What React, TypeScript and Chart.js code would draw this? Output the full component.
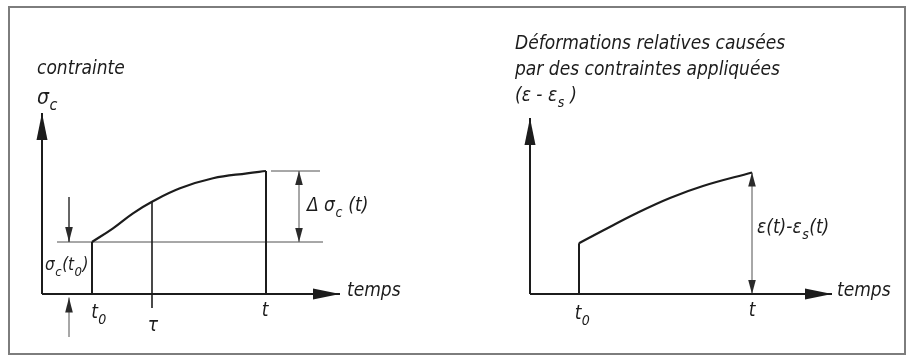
import React, { useEffect, useRef } from 'react';
import { Chart, registerables } from 'chart.js';
Chart.register(...registerables);

// ---------- Left panel: contrainte σc(t) ----------
const stressTime = [1.0, 1.42, 1.82, 2.2, 2.76, 3.42, 4.1, 4.48];
const stressValue = [5.2, 6.57, 8.07, 9.23, 10.57, 11.57, 12.07, 12.3];
const stressMarkLabels = ['t_0', 'τ', 't'];
const stressMarkTime = [1.0, 2.2, 4.48];
const stressAxisEnd = [5.96, 18.1]; // [time axis end, stress axis end]
const stressInitial = 5.2; // σc(t0)
const stressFinal = 12.3; // σc(t)

// ---------- Right panel: déformations (ε - εs) ----------
const strainTime = [0.98, 1.46, 2.14, 2.8, 3.46, 4.44];
const strainValue = [5.07, 6.35, 8.1, 9.6, 10.8, 12.15];
const strainMarkLabels = ['t_0', 't'];
const strainMarkTime = [0.98, 4.44];
const strainAxisEnd = [6.04, 17.6];

// ---------- styles ----------
const INK = '#1c1c1c';
const THIN = '#505050';
const HEAD = '#2a2a2a';
const FONT_FAMILY = '"DejaVu Sans Condensed", "DejaVu Sans", sans-serif';
const MAIN_SIZE = 19;
const SUB_RATIO = 0.76;

type Heads = { start?: boolean; end?: boolean; len: number; half: number };

function seg(
  xAxisID: string,
  yAxisID: string,
  x1: number,
  y1: number,
  x2: number,
  y2: number,
  width: number,
  color: string,
  heads?: Heads
) {
  return {
    data: [
      { x: x1, y: y1 },
      { x: x2, y: y2 },
    ],
    xAxisID,
    yAxisID,
    showLine: true,
    borderColor: color,
    backgroundColor: color,
    borderWidth: width,
    pointRadius: 0,
    fill: false,
    tension: 0,
    heads,
  };
}

function curve(xAxisID: string, yAxisID: string, xs: number[], ys: number[]) {
  return {
    data: xs.map((x, i) => ({ x, y: ys[i] })),
    xAxisID,
    yAxisID,
    showLine: true,
    borderColor: INK,
    borderWidth: 2.2,
    pointRadius: 0,
    fill: false,
    tension: 0.4,
    cubicInterpolationMode: 'default',
  };
}

const AXIS_HEAD: Heads = { end: true, len: 27, half: 5.5 };
const DIM_BOTH: Heads = { start: true, end: true, len: 14, half: 3.8 };
const DIM_END: Heads = { end: true, len: 15, half: 3.8 };

const tauBottom = -1.4;
const leftArrowX = 0.54;

const datasets: any[] = [
  // left panel
  curve('x', 'y', stressTime, stressValue),
  seg('x', 'y', 0, 0, 0, stressAxisEnd[1], 2, INK, AXIS_HEAD),
  seg('x', 'y', 0, 0, stressAxisEnd[0], 0, 2, INK, AXIS_HEAD),
  seg('x', 'y', stressMarkTime[0], 0, stressMarkTime[0], stressInitial, 2, INK),
  seg('x', 'y', stressMarkTime[1], tauBottom, stressMarkTime[1], stressValue[3], 1.6, INK),
  seg('x', 'y', stressMarkTime[2], 0, stressMarkTime[2], stressFinal, 2, INK),
  seg('x', 'y', 0.3, stressInitial, 5.62, stressInitial, 1, THIN),
  seg('x', 'y', 4.58, stressFinal, 5.56, stressFinal, 1, THIN),
  seg('x', 'y', 5.14, stressInitial, 5.14, stressFinal, 1, THIN, DIM_BOTH),
  seg('x', 'y', leftArrowX, 9.7, leftArrowX, stressInitial, 1, THIN, DIM_END),
  seg('x', 'y', leftArrowX, -4.3, leftArrowX, -0.35, 1, THIN, DIM_END),
  // right panel
  curve('x2', 'y2', strainTime, strainValue),
  seg('x2', 'y2', 0, 0, 0, strainAxisEnd[1], 2, INK, AXIS_HEAD),
  seg('x2', 'y2', 0, 0, strainAxisEnd[0], 0, 2, INK, AXIS_HEAD),
  seg('x2', 'y2', strainMarkTime[0], 0, strainMarkTime[0], strainValue[0], 2, INK),
  seg('x2', 'y2', strainMarkTime[1], 0, strainMarkTime[1], strainValue[strainValue.length - 1], 1, THIN, DIM_BOTH),
];

type Label = { text: string; x: number; y: number; xs: string; ys: string; align?: 'left' | 'center'; size?: number };

const labels: Label[] = [
  { text: 'contrainte', x: -0.1, y: 22.6, xs: 'x', ys: 'y' },
  { text: 'σ_c', x: -0.1, y: 19.7, xs: 'x', ys: 'y', size: 21 },
  { text: 'σ_c(t_0)', x: 0.06, y: 2.9, xs: 'x', ys: 'y', size: 17 },
  { text: 'Δ σ_c (t)', x: 5.3, y: 8.9, xs: 'x', ys: 'y' },
  { text: stressMarkLabels[0], x: stressMarkTime[0] + 0.14, y: -1.8, xs: 'x', ys: 'y', align: 'center' },
  { text: stressMarkLabels[1], x: stressMarkTime[1] + 0.02, y: -3.1, xs: 'x', ys: 'y', align: 'center' },
  { text: stressMarkLabels[2], x: stressMarkTime[2] - 0.02, y: -1.6, xs: 'x', ys: 'y', align: 'center' },
  { text: 'temps', x: 6.1, y: 0.4, xs: 'x', ys: 'y' },
  { text: 'Déformations relatives causées', x: -0.3, y: 25.1, xs: 'x2', ys: 'y2' },
  { text: 'par des contraintes appliquées', x: -0.3, y: 22.5, xs: 'x2', ys: 'y2' },
  { text: '(ε - ε_s )', x: -0.3, y: 19.9, xs: 'x2', ys: 'y2' },
  { text: 'ε(t)-ε_s(t)', x: 4.54, y: 6.7, xs: 'x2', ys: 'y2' },
  { text: strainMarkLabels[0], x: strainMarkTime[0] + 0.07, y: -1.9, xs: 'x2', ys: 'y2', align: 'center' },
  { text: strainMarkLabels[1], x: strainMarkTime[1], y: -1.6, xs: 'x2', ys: 'y2', align: 'center' },
  { text: 'temps', x: 6.14, y: 0.4, xs: 'x2', ys: 'y2' },
];

function runs(text: string) {
  const out: { t: string; sub: boolean }[] = [];
  for (let i = 0; i < text.length; i++) {
    if (text[i] === '_' && i + 1 < text.length) {
      out.push({ t: text[i + 1], sub: true });
      i++;
    } else {
      const last = out[out.length - 1];
      if (last && !last.sub) last.t += text[i];
      else out.push({ t: text[i], sub: false });
    }
  }
  return out;
}

function drawHead(ctx: CanvasRenderingContext2D, from: any, tip: any, h: Heads, color: string) {
  const dx = tip.x - from.x;
  const dy = tip.y - from.y;
  const L = Math.hypot(dx, dy) || 1;
  const ux = dx / L;
  const uy = dy / L;
  const bx = tip.x - ux * h.len;
  const by = tip.y - uy * h.len;
  ctx.beginPath();
  ctx.moveTo(tip.x, tip.y);
  ctx.lineTo(bx - uy * h.half, by + ux * h.half);
  ctx.lineTo(bx + uy * h.half, by - ux * h.half);
  ctx.closePath();
  ctx.fillStyle = color;
  ctx.fill();
}

const diagramPlugin = {
  id: 'diagram',
  afterDatasetsDraw(chart: any) {
    const ctx: CanvasRenderingContext2D = chart.ctx;
    ctx.save();
    chart.data.datasets.forEach((ds: any, i: number) => {
      if (!ds.heads) return;
      const pts = chart.getDatasetMeta(i).data;
      if (pts.length < 2) return;
      const color = ds.borderColor === INK ? INK : HEAD;
      if (ds.heads.end) drawHead(ctx, pts[pts.length - 2], pts[pts.length - 1], ds.heads, color);
      if (ds.heads.start) drawHead(ctx, pts[1], pts[0], ds.heads, color);
    });
    ctx.fillStyle = INK;
    ctx.textBaseline = 'alphabetic';
    ctx.textAlign = 'left';
    labels.forEach((lb) => {
      const px = chart.scales[lb.xs].getPixelForValue(lb.x);
      const py = chart.scales[lb.ys].getPixelForValue(lb.y);
      const size = lb.size || MAIN_SIZE;
      const subSize = Math.round(size * SUB_RATIO);
      const parts = runs(lb.text);
      let total = 0;
      const widths = parts.map((p) => {
        ctx.font = `italic ${p.sub ? subSize : size}px ${FONT_FAMILY}`;
        const w = ctx.measureText(p.t).width + (p.sub ? 1 : 0);
        total += w;
        return w;
      });
      let x = lb.align === 'center' ? px - total / 2 : px;
      const base = py + size * 0.32;
      parts.forEach((p, k) => {
        ctx.font = `italic ${p.sub ? subSize : size}px ${FONT_FAMILY}`;
        ctx.fillText(p.t, x + (p.sub ? 0.5 : 0), p.sub ? base + size * 0.3 : base);
        x += widths[k];
      });
    });
    ctx.restore();
  },
};

export default function App() {
  const ref = useRef<HTMLCanvasElement>(null);
  useEffect(() => {
    const chart = new Chart(ref.current as HTMLCanvasElement, {
      type: 'scatter',
      data: { datasets },
      options: {
        responsive: false,
        animation: false,
        devicePixelRatio: 1,
        events: [],
        layout: { padding: 0 },
        plugins: { legend: { display: false }, tooltip: { enabled: false }, title: { display: false } },
        scales: {
          x: { type: 'linear', display: false, min: -0.84, max: 17.28 },
          y: { type: 'linear', display: false, min: -6.2, max: 29.4 },
          x2: { type: 'linear', axis: 'x', display: false, min: -10.6, max: 7.52 },
          y2: { type: 'linear', axis: 'y', display: false, min: -6.2, max: 29.4 },
        },
      } as any,
      plugins: [diagramPlugin],
    } as any);
    return () => chart.destroy();
  }, []);
  return (
    <div style={{ position: 'absolute', left: 0, top: 0, width: 906, height: 356, background: '#fff' }}>
      <div
        style={{
          position: 'absolute',
          left: 8,
          top: 6,
          width: 898,
          height: 349,
          boxSizing: 'border-box',
          border: '2px solid #7d7d7d',
        }}
      />
      <canvas ref={ref} width={906} height={356} style={{ position: 'absolute', left: 0, top: 0, width: 906, height: 356 }} />
    </div>
  );
}
